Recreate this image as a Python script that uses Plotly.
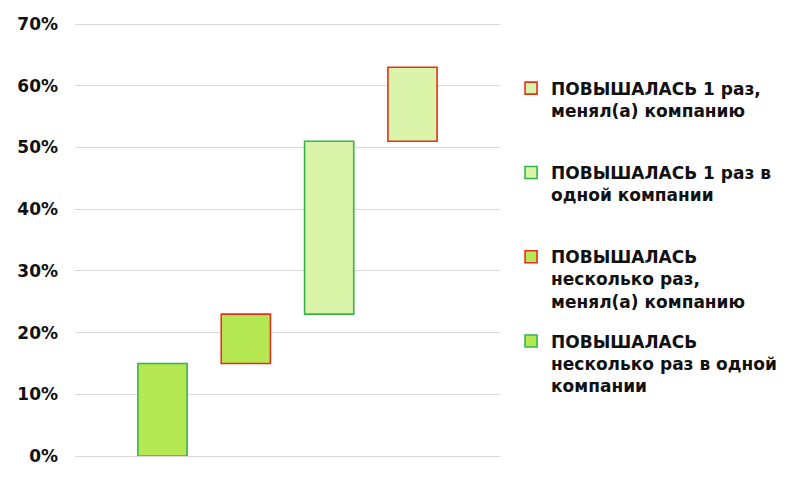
import plotly.graph_objects as go

# Data (percent)
names = [
    "ПОВЫШАЛАСЬ<br>несколько раз в одной<br>компании",
    "ПОВЫШАЛАСЬ<br>несколько раз,<br>менял(а) компанию",
    "ПОВЫШАЛАСЬ 1 раз в<br>одной компании<br>\u00a0",
    "ПОВЫШАЛАСЬ 1 раз,<br>менял(а) компанию<br>\u00a0",
]
positions = [0, 1, 2, 3]
bases = [0, 15, 23, 51]
values = [15, 8, 28, 12]
legend_ranks = [4, 3, 2, 1]
fill_colors = ["#b5e853", "#b5e853", "#daf5a9", "#daf5a9"]
line_colors = ["#35b54a", "#e5301c", "#35b54a", "#e5301c"]
tick_vals = [0, 10, 20, 30, 40, 50, 60, 70]
tick_text = ["0%", "10%", "20%", "30%", "40%", "50%", "60%", "70%"]

FONT = dict(family="DejaVu Sans", size=17, color="#111111", weight=700)

fig = go.Figure()
for i in range(len(values)):
    fig.add_trace(go.Bar(
        x=[positions[i]], y=[values[i]], base=[bases[i]],
        name=names[i], legendgroup=f"g{i}", legendrank=legend_ranks[i],
        width=0.59,
        marker=dict(color=fill_colors[i], line=dict(color=line_colors[i], width=1.6)),
    ))

fig.update_layout(
    width=800, height=480,
    margin=dict(l=75, r=300, t=21, b=24),
    plot_bgcolor="white", paper_bgcolor="white",
    font=FONT,
    showlegend=True,
    legend=dict(
        x=1.026, y=0.886, xanchor="left", yanchor="top",
        traceorder="grouped", tracegroupgap=15,
        valign="top",
        font=FONT,
        bgcolor="rgba(0,0,0,0)",
    ),
    xaxis=dict(range=[-1.05, 4.05], showticklabels=False, showgrid=False,
               zeroline=False, showline=False, fixedrange=True),
    yaxis=dict(range=[0, 70.5], tickvals=tick_vals, ticktext=tick_text,
               showgrid=True, gridcolor="#d9d9d9", gridwidth=1,
               zeroline=True, zerolinecolor="#d9d9d9", zerolinewidth=1,
               showline=False, ticks="", ticklabelstandoff=16,
               tickfont=FONT),
)

fig.write_html("out.html", config={"displayModeBar": False},
               post_script="document.body.style.margin='0';")
